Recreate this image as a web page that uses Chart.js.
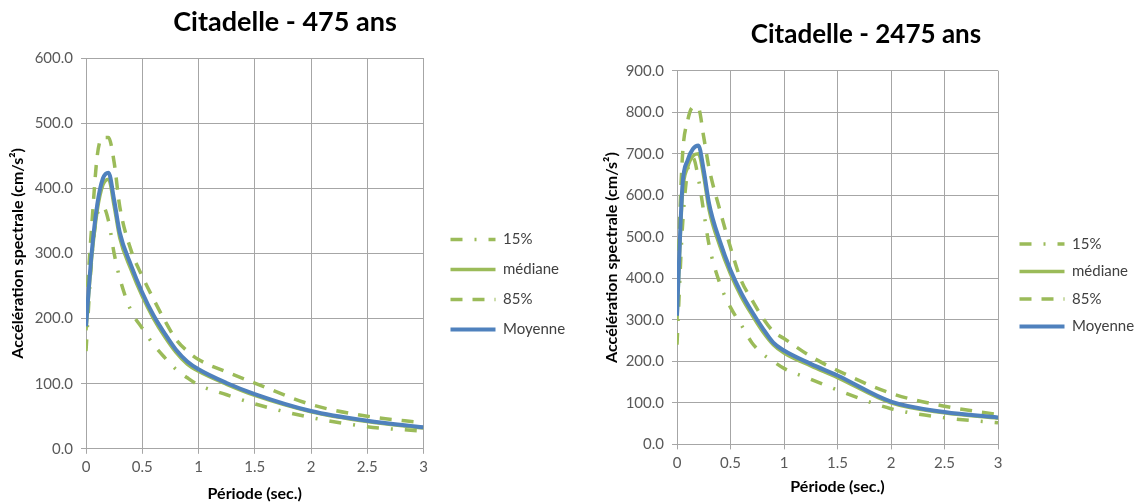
<!DOCTYPE html>
<html>
<head>
<meta charset="utf-8">
<script src="https://cdn.jsdelivr.net/npm/chart.js@4.4.0/dist/chart.umd.min.js"></script>
<style>
  body { margin: 0; background: #fff; }
  canvas { position: absolute; top: 0; }
</style>
</head>
<body>
<canvas id="c475" width="580" height="504" style="left:0"></canvas>
<canvas id="c2475" width="554" height="504" style="left:580px"></canvas>
<script>
// periods (sec.) shared by both spectra
const periods = [0, 0.05, 0.1, 0.15, 0.2, 0.25, 0.3, 0.4, 0.5, 0.6, 0.7, 0.8, 0.9, 1.0, 1.25, 1.5, 2.0, 2.5, 3.0];
const seriesNames = ["15%", "médiane", "85%", "Moyenne"];
const xTicks = [0, 0.5, 1, 1.5, 2, 2.5, 3];

// Citadelle - 475 ans
const p15_475 = [150, 290, 360, 372, 350, 300, 262, 212, 185, 160, 140, 122, 109, 98, 83, 69, 48, 34, 27];
const med_475 = [182, 292, 366, 405, 414, 373, 324, 275, 234, 200, 172, 148, 130, 119, 99, 82, 57, 42, 32];
const p85_475 = [215, 340, 450, 478, 478, 440, 372, 305, 265, 230, 197, 168, 150, 137, 118, 101, 68, 50, 40];
const moy_475 = [188, 300, 375, 415, 424, 382, 332, 282, 240, 205, 177, 152, 134, 122, 101, 84, 58, 43, 33];

// Citadelle - 2475 ans
const p15_2475 = [240, 520, 660, 690, 640, 560, 480, 388, 330, 288, 245, 218, 200, 183, 157, 131, 86, 64, 52];
const med_2475 = [300, 600, 668, 695, 700, 645, 565, 478, 410, 356, 312, 272, 240, 220, 189, 161, 100, 76, 63];
const p85_2475 = [360, 690, 780, 812, 810, 740, 665, 565, 474, 395, 348, 305, 272, 255, 212, 178, 123, 92, 72];
const moy_2475 = [310, 620, 685, 712, 720, 660, 580, 490, 420, 365, 320, 280, 245, 226, 194, 166, 103, 78, 65];

const green = "#9bbb59";
const blue = "#4f81bd";

const toPoints = (vals) => vals.map((v, i) => ({ x: periods[i], y: v }));

// move the legend block after layout so the plot area keeps its size
const legendNudge = {
  id: "legendNudge",
  afterLayout: (chart, args, opts) => {
    const lg = chart.legend;
    lg.left += opts.dx; lg.right += opts.dx;
    lg.top += opts.dy; lg.bottom += opts.dy;
  },
};

makeChart = (id, title, data, yMax, cfg) => {
  const styles = [
    { borderColor: green, borderWidth: 3.5, borderDash: [12, 12, 2, 12], order: 1 },
    { borderColor: green, borderWidth: 3.5, borderDash: [], order: 1 },
    { borderColor: green, borderWidth: 3.5, borderDash: [12, 10], order: 1 },
    { borderColor: blue, borderWidth: 4, borderDash: [], order: 0 },
  ];
  const datasets = data.map((vals, i) => ({
    label: seriesNames[i],
    data: toPoints(vals),
    borderColor: styles[i].borderColor,
    backgroundColor: styles[i].borderColor,
    borderWidth: styles[i].borderWidth,
    borderDash: styles[i].borderDash,
    order: styles[i].order,
    pointRadius: 0,
    tension: 0.4,
    cubicInterpolationMode: "monotone",
  }));

  new Chart(document.getElementById(id), {
    type: "line",
    data: { datasets: datasets },
    plugins: [legendNudge],
    options: {
      responsive: false,
      animation: false,
      layout: { padding: cfg.padding },
      plugins: {
        legendNudge: cfg.nudge,
        title: {
          display: true,
          text: title,
          color: "#000",
          font: { family: "Lato", size: cfg.titleSize, weight: "bold" },
          padding: cfg.titlePadding,
        },
        legend: {
          position: "right",
          labels: {
            usePointStyle: true,
            pointStyle: "line",
            pointStyleWidth: 45,
            color: "#404040",
            font: { family: "Lato", size: 15 },
            padding: cfg.legendPad,
            sort: (a, b) => a.datasetIndex - b.datasetIndex,
            generateLabels: (chart) =>
              Chart.defaults.plugins.legend.labels.generateLabels(chart).map((item) => {
                const ds = chart.data.datasets[item.datasetIndex];
                item.lineDash = ds.borderDash;
                item.lineWidth = ds.borderWidth;
                item.strokeStyle = ds.borderColor;
                return item;
              }),
          },
        },
        tooltip: { enabled: false },
      },
      scales: {
        x: {
          type: "linear",
          min: 0,
          max: 3,
          afterBuildTicks: (scale) => {
            scale.ticks = xTicks.map((v) => ({ value: v }));
          },
          ticks: {
            color: "#595959",
            font: { family: "Lato", size: 15 },
            padding: cfg.xTickPad,
            callback: (v) => String(v),
            maxRotation: 0,
          },
          grid: { color: "#a6a6a6", tickLength: 5 },
          border: { color: "#a6a6a6" },
          title: {
            display: true,
            text: "Période (sec.)",
            color: "#000",
            font: { family: "Lato", size: 16, weight: "bold" },
            padding: cfg.xTitlePad,
          },
        },
        y: {
          min: 0,
          max: yMax,
          ticks: {
            stepSize: 100,
            color: "#595959",
            font: { family: "Lato", size: 15 },
            padding: 8,
            callback: (v) => v.toFixed(1),
          },
          grid: { color: "#a6a6a6", tickLength: 5 },
          border: { color: "#a6a6a6" },
          title: {
            display: true,
            text: "Accélération spectrale (cm/s²)",
            color: "#000",
            font: { family: "Lato", size: 16, weight: "bold" },
            padding: { top: 0, bottom: 0 },
          },
          afterFit: (scale) => {
            scale.width = cfg.yWidth;
          },
        },
      },
    },
  });
};

makeChart("c475", "Citadelle - 475 ans", [p15_475, med_475, p85_475, moy_475], 600, {
  padding: { left: 8, right: 18, top: 2, bottom: 1 },
  titleSize: 27,
  titlePadding: { top: 4, bottom: 19.6 },
  xTickPad: 4,
  xTitlePad: { top: 4, bottom: 0 },
  legendPad: 15,
  nudge: { dx: 12, dy: 32 },
  yWidth: 78,
});
makeChart("c2475", "Citadelle - 2475 ans", [p15_2475, med_2475, p85_2475, moy_2475], 900, {
  padding: { left: 22, right: 4, top: 2, bottom: 7.4 },
  titleSize: 26,
  titlePadding: { top: 17.4, bottom: 20.1 },
  xTickPad: 5,
  xTitlePad: { top: 0, bottom: 0 },
  legendPad: 12.5,
  nudge: { dx: 9, dy: 36 },
  yWidth: 75,
});
</script>
</body>
</html>
